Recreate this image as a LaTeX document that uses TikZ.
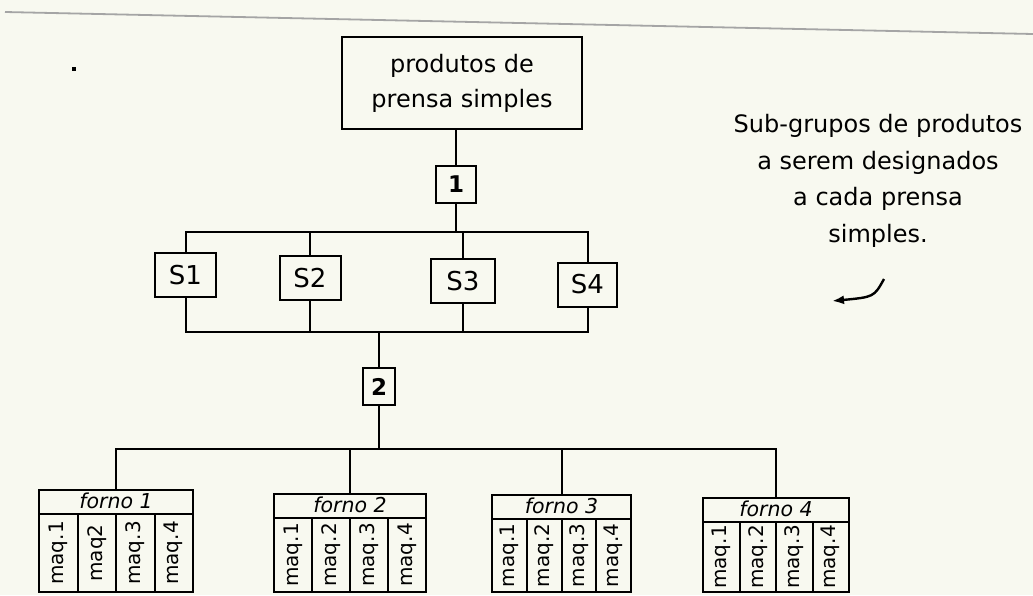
\documentclass[tikz,border=0pt]{standalone}
\usepackage{fontspec}
\setmainfont{DejaVu Sans}[ItalicFont={DejaVu Sans Oblique},BoldFont={DejaVu Sans Bold}]
\usepackage{tikz}
\usetikzlibrary{arrows.meta,positioning}
\definecolor{paper}{RGB}{248,249,240}
\definecolor{scan}{RGB}{165,165,165}
\tikzset{
  box/.style={rectangle, draw, line width=2pt, outer sep=0pt, align=center, inner sep=2pt},
  title/.style={box, minimum width=240, minimum height=92, font=\fontsize{24}{35}\selectfont},
  sub/.style={box, minimum width=61, minimum height=44, font=\fontsize{26}{30}\selectfont},
  num/.style={box, minimum width=40, minimum height=37, font=\fontsize{23}{26}\selectfont\bfseries},
  hdr/.style={box, minimum height=24, inner sep=0pt, text height=14pt, text depth=2pt,
    font=\fontsize{20.5}{22}\selectfont\itshape},
  maq/.style={box, rotate=90, inner sep=0pt, font=\fontsize{20}{22}\selectfont},
  note/.style={align=center, font=\fontsize{24}{36.5}\selectfont},
  link/.style={line width=2pt},
  arr/.style={-{Latex[length=12pt,width=9pt]}, line width=2.4pt}
}
\begin{document}
\begin{tikzpicture}[x=1pt, y=-1pt]
\fill[paper] (0,0) rectangle (1033,595);
\useasboundingbox (0,0) rectangle (1033,595);
\draw[scan, line width=1.8pt] (5,12) -- (1033,34);
\fill (72,67) rectangle (76,71);

\node[title] (prod) at (462,83) {produtos de\\prensa simples};
\node[num] (n1) at (456,184) {1};
\coordinate (bar1) at (456,232);

\node[sub] (s1) at (185.5,275) {S1};
\node[sub] (s2) at (310,278) {S2};
\node[sub, minimum width=64] (s3) at (463,281) {S3};
\node[sub, minimum width=59] (s4) at (587.5,284.5) {S4};
\coordinate (bar2) at (379,332);

\node[num, minimum width=32, below=36pt of bar2] (n2) {2};
\coordinate (bar3) at (379,449);

\foreach \k/\xa/\ya/\w in {1/39/490/154, 2/274/494/152, 3/492/495/139, 4/703/498/146}{
  \node[hdr, minimum width=\w, anchor=north west] (f\k) at (\xa,\ya) {forno \k};
  \foreach \j in {1,...,4}
    \node[maq, anchor=north west, minimum width={592-\ya-24}, minimum height={\w/4}]
      (m\k\j) at ({\xa+(\j-1)*\w/4},592) {\ifnum\k\j=12 maq2\else maq.\j\fi};
}

\node[note] (note) at (878,181) {Sub-grupos de produtos\\a serem designados\\a cada prensa\\simples.};
\coordinate (tail) at (884,279);
\coordinate (tip) at (832,301);

\draw[link] (prod.south -| n1) -- (n1);
\draw[link] (n1) -- (bar1);
\draw[link] (s1.north) |- (bar1) -| (s4.north);
\draw[link] (s2.north) -- (s2.north |- bar1);
\draw[link] (s3.north) -- (s3.north |- bar1);
\draw[link] (s1.south) |- (bar2) -| (s4.south);
\draw[link] (s2.south) -- (s2.south |- bar2);
\draw[link] (s3.south) -- (s3.south |- bar2);
\draw[link] (bar2) -- (n2);
\draw[link] (n2) -- (bar3);
\draw[link] (f1.north) |- (bar3) -| (f4.north);
\draw[link] (f2.north) -- (f2.north |- bar3);
\draw[link] (f3.north) -- (f3.north |- bar3);
\draw[arr] (tail) .. controls (874,297) .. (tip);
\end{tikzpicture}
\end{document}
